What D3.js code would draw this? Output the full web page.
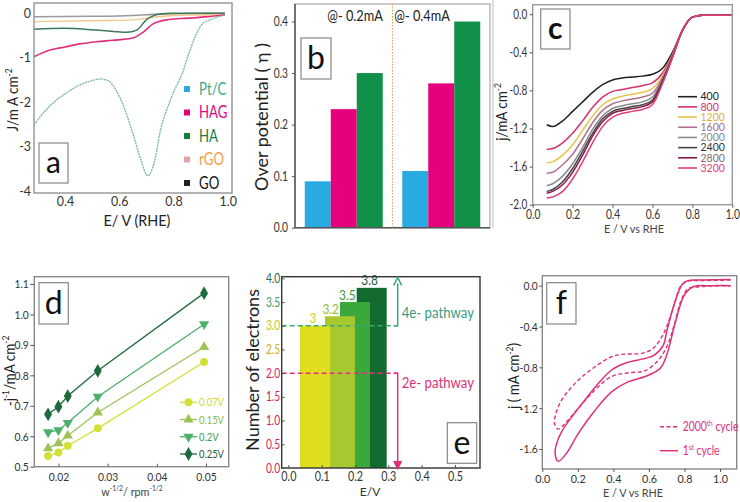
<!DOCTYPE html>
<html><head><meta charset="utf-8">
<script src="https://cdn.jsdelivr.net/npm/d3@7"></script>
<style>body{margin:0;background:#fff}svg{display:block}text{font-family:Lato,"Open Sans",sans-serif}</style>
</head><body><svg id="fig" width="740" height="502"></svg>
<script>
// ---------- DATA ----------
// panel a: LSV curves
const aNames = ["Pt/C","HAG","HA","rGO","GO"];
const aPtC_E = [0.286,0.32,0.36,0.40,0.45,0.50,0.53,0.56,0.59,0.62,0.65,0.68,0.705,0.73,0.75,0.79,0.837,0.86,0.886,0.91,0.935,0.96,0.99];
const aPtC_J = [-2.52,-2.25,-2.0,-1.82,-1.63,-1.52,-1.48,-1.52,-1.75,-2.15,-2.7,-3.3,-3.66,-3.35,-2.7,-1.94,-1.28,-0.85,-0.45,-0.22,-0.15,-0.09,-0.04];
const aHAG_E = [0.286,0.345,0.40,0.455,0.52,0.577,0.65,0.688,0.725,0.775,0.83,0.886,0.94,0.99];
const aHAG_J = [-0.98,-0.83,-0.76,-0.69,-0.64,-0.61,-0.56,-0.43,-0.24,-0.15,-0.12,-0.10,-0.07,-0.04];
const aHA_E = [0.286,0.394,0.517,0.58,0.628,0.665,0.70,0.725,0.75,0.79,0.9,0.99];
const aHA_J = [-0.36,-0.34,-0.38,-0.41,-0.43,-0.38,-0.15,-0.06,-0.02,0,0,0];
const aRGO_E = [0.286,0.5,0.65,0.738,0.8,0.9,0.99];
const aRGO_J = [-0.19,-0.17,-0.15,-0.08,-0.05,-0.04,-0.03];
const aGO_E = [0.286,0.5,0.65,0.75,0.85,0.99];
const aGO_J = [-0.08,-0.07,-0.05,-0.02,-0.01,0];
const aXTicks = [0.4,0.6,0.8,1.0];
const aYTicks = [0,-1,-2,-3,-4];

// panel b: overpotential bars
const bGroups = ["@-0.2mA","@-0.4mA"];
const bSeries = ["Pt/C","HAG","HA"];
const bAt02 = [0.09,0.23,0.30];
const bAt04 = [0.11,0.28,0.40];
const bYTicks = [0,0.1,0.2,0.3,0.4];

// panel c: LSV at rotation rates
const cRpm = ["400","800","1200","1600","2000","2400","2800","3200"];
const cE = [0.07,0.10,0.15,0.20,0.25,0.30,0.35,0.40,0.45,0.50,0.55,0.60,0.65,0.70,0.75,0.80,0.85,0.90,1.0];
const c400  = [-1.16,-1.18,-1.12,-1.02,-0.92,-0.82,-0.74,-0.69,-0.67,-0.66,-0.65,-0.63,-0.57,-0.40,-0.17,-0.03,-0.01,-0.01,-0.01];
const c800  = [-1.42,-1.41,-1.35,-1.25,-1.12,-0.98,-0.87,-0.81,-0.79,-0.77,-0.75,-0.72,-0.62,-0.42,-0.17,-0.03,-0.01,-0.01,-0.01];
const c1200 = [-1.56,-1.55,-1.48,-1.37,-1.22,-1.07,-0.95,-0.89,-0.86,-0.84,-0.82,-0.78,-0.65,-0.43,-0.17,-0.03,-0.01,-0.01,-0.01];
const c1600 = [-1.67,-1.66,-1.58,-1.47,-1.31,-1.14,-1.01,-0.94,-0.91,-0.89,-0.87,-0.83,-0.67,-0.44,-0.17,-0.03,-0.01,-0.01,-0.01];
const c2000 = [-1.80,-1.78,-1.70,-1.57,-1.40,-1.21,-1.07,-0.99,-0.96,-0.94,-0.92,-0.87,-0.69,-0.44,-0.17,-0.03,-0.01,-0.01,-0.01];
const c2400 = [-1.86,-1.84,-1.76,-1.62,-1.44,-1.25,-1.10,-1.02,-0.99,-0.97,-0.95,-0.90,-0.70,-0.45,-0.17,-0.03,-0.01,-0.01,-0.01];
const c2800 = [-1.88,-1.86,-1.79,-1.66,-1.48,-1.28,-1.13,-1.04,-1.01,-0.99,-0.97,-0.92,-0.72,-0.45,-0.17,-0.03,-0.01,-0.01,-0.01];
const c3200 = [-1.93,-1.92,-1.86,-1.73,-1.55,-1.35,-1.18,-1.08,-1.04,-1.02,-1.00,-0.95,-0.73,-0.46,-0.17,-0.03,-0.01,-0.01,-0.01];
const cXTicks = [0,0.2,0.4,0.6,0.8,1.0];
const cYTicks = [0,-0.4,-0.8,-1.2,-1.6,-2.0];

// panel d: Koutecky-Levich
const dNames = ["0.07V","0.15V","0.2V","0.25V"];
const dW = [0.0179,0.0200,0.0219,0.0280,0.0496];
const d007 = [0.535,0.547,0.569,0.626,0.844];
const d015 = [0.560,0.577,0.602,0.678,0.893];
const d020 = [0.613,0.620,0.644,0.730,0.968];
const d025 = [0.672,0.697,0.732,0.815,1.070];
const dXTicks = [0.02,0.03,0.04,0.05];
const dYTicks = [0.5,0.6,0.7,0.8,0.9,1.0,1.1];

// panel e: number of electrons
const eE = [0.08,0.155,0.2,0.25];
const eN = [3.0,3.2,3.5,3.8];
const eLabels = ["3","3.2","3.5","3.8"];
const eXTicks = [0,0.1,0.2,0.3,0.4,0.5];
const eYTicks = [0,0.5,1.0,1.5,2.0,2.5,3.0,3.5,4.0];

// panel f: stability CV
const fNames = ["2000th cycle","1st cycle"];
const f2000_E = [1.06,0.9,0.82,0.78,0.74,0.70,0.673,0.62,0.56,0.447,0.39,0.297,0.203,0.109,0.072,0.07,0.09,0.128,0.203,0.297,0.39,0.485,0.579,0.654,0.70,0.74,0.78,0.82,0.88,1.06];
const f2000_J = [0.055,0.05,0.045,0.0,-0.2,-0.4,-0.5,-0.62,-0.663,-0.673,-0.696,-0.794,-0.925,-1.12,-1.284,-1.36,-1.405,-1.35,-1.2,-1.02,-0.89,-0.853,-0.833,-0.728,-0.6,-0.4,-0.15,-0.03,-0.01,0.0];
const f1_E = [1.06,0.9,0.82,0.79,0.75,0.70,0.682,0.63,0.579,0.466,0.39,0.316,0.24,0.166,0.109,0.081,0.072,0.09,0.137,0.203,0.297,0.39,0.485,0.579,0.663,0.70,0.75,0.80,0.85,0.95,1.06];
const f1_J = [0.06,0.055,0.05,0.02,-0.14,-0.45,-0.58,-0.68,-0.712,-0.76,-0.826,-0.957,-1.12,-1.284,-1.43,-1.545,-1.643,-1.72,-1.64,-1.447,-1.22,-1.04,-0.94,-0.89,-0.81,-0.68,-0.35,-0.09,-0.01,0.0,0.0];
const fXTicks = [0,0.2,0.4,0.6,0.8,1.0];
const fYTicks = [0,-0.4,-0.8,-1.2,-1.6];

// ---------- HELPERS ----------
const svg = d3.select("#fig");
svg.append("rect").attr("width",740).attr("height",502).attr("fill","#fff");

function squeeze(sel,k){
  sel.each(function(){
    const t=d3.select(this); const x=+(t.attr("x")||0);
    t.attr("x",x/k).attr("transform",`scale(${k},1)`);
  });
}
function rich(t, parts, fs){
  let up=false;
  parts.forEach(p=>{
    const sup=Array.isArray(p);
    const s=t.append("tspan").text(sup?p[0]:p);
    if(sup){s.attr("font-size",fs*0.62); if(!up) s.attr("dy",-fs*0.42); up=true;}
    else{s.attr("font-size",fs); if(up){s.attr("dy",fs*0.42); up=false;}}
  });
}
function label(x,y,parts,fs,o={}){
  const k=o.k||1;
  const t=svg.append("text").attr("transform",`translate(${x},${y})${o.rot?" rotate(-90)":""} scale(${k},1)`)
    .attr("text-anchor",o.anchor||"middle").attr("fill",o.fill||"#222").attr("font-size",fs);
  if(o.weight) t.attr("font-weight",o.weight);
  rich(t, typeof parts==="string"?[parts]:parts, fs);
  return t;
}
function frame(x,y,stroke,w){
  const [x0,x1]=x.range(), [y0,y1]=y.range();
  svg.append("rect").attr("x",Math.min(x0,x1)).attr("y",Math.min(y0,y1))
    .attr("width",Math.abs(x1-x0)).attr("height",Math.abs(y1-y0))
    .attr("fill","none").attr("stroke",stroke).attr("stroke-width",w||1.2);
}
function xAxis(x,y,ticks,fmt,size,pad,fs,k){
  const g=svg.append("g").attr("transform",`translate(0,${y.range()[0]})`)
    .call(d3.axisBottom(x).tickValues(ticks).tickFormat(fmt).tickSize(size).tickPadding(pad));
  g.select(".domain").remove();
  g.selectAll("line").attr("stroke","#555");
  g.selectAll("text").attr("font-size",fs).attr("fill","#333").attr("font-family","Lato");
  squeeze(g.selectAll("text"),k||0.86);
  return g;
}
function yAxis(x0,y,ticks,fmt,size,pad,fs,k){
  const g=svg.append("g").attr("transform",`translate(${x0},0)`)
    .call(d3.axisLeft(y).tickValues(ticks).tickFormat(fmt).tickSize(size).tickPadding(pad));
  g.select(".domain").remove();
  g.selectAll("line").attr("stroke","#555");
  g.selectAll("text").attr("font-size",fs).attr("fill","#333").attr("font-family","Lato");
  squeeze(g.selectAll("text"),k||0.86);
  return g;
}
function box(x0,y0,x1,y1,letter,fs,weight){
  svg.append("rect").attr("x",x0).attr("y",y0).attr("width",x1-x0).attr("height",y1-y0)
    .attr("fill","#fff").attr("stroke","#888").attr("stroke-width",1.2);
  svg.append("text").attr("x",(x0+x1)/2).attr("y",(y0+y1)/2).attr("dy","0.33em")
    .attr("text-anchor","middle").attr("font-size",fs).attr("font-weight",weight||"normal")
    .attr("fill","#111").text(letter);
}
const minusFmt = f => v => d3.format(f)(v).replace("−","-");
function legendText(x,y,txt,fs,fill,k){
  const t=svg.append("text").attr("x",x).attr("y",y).attr("dy","0.36em").attr("font-size",fs).attr("fill",fill).text(txt);
  squeeze(t,k);
  return t;
}

// ---------- PANEL A ----------
{
  const x=d3.scaleLinear().domain([0.286,1.016]).range([34,232]);
  const y=d3.scaleLinear().domain([-4.05,0.23]).range([193,3]);
  const line=d3.line().x(d=>x(d[0])).y(d=>y(d[1])).curve(d3.curveMonotoneX);
  const series=[
    {E:aGO_E,J:aGO_J,c:"#9a9a9a",w:1.6},
    {E:aRGO_E,J:aRGO_J,c:"#f2c88a",w:1.4},
    {E:aHA_E,J:aHA_J,c:"#3f7a58",w:1.5},
    {E:aHAG_E,J:aHAG_J,c:"#e0307a",w:1.6},
    {E:aPtC_E,J:aPtC_J,c:"#78b49c",w:1.3,dash:"2,0.8"}
  ];
  series.forEach(s=>svg.append("path").attr("d",line(d3.zip(s.E,s.J))).attr("fill","none")
    .attr("stroke",s.c).attr("stroke-width",s.w).attr("stroke-dasharray",s.dash||null));
  frame(x,y,"#9a9a9a",1.5);
  xAxis(x,y,aXTicks,d3.format(".1f"),0,3.5,13.5,0.92);
  yAxis(34,y,aYTicks,minusFmt("d"),0,3,13.5,0.92);
  label(18,100,["J/m A cm",["-2"]],15,{rot:true,k:0.9});
  label(137,226,"E/ V (RHE)",16,{k:0.9});
  const sq=["#29abe2","#e6007e","#1a7a40","#e8a0a8","#222"];
  const tc=["#3aaa8a","#e6007e","#1a7a40","#f0a040","#111"];
  const ly=d3.scalePoint().domain(aNames).range([89,183]);
  aNames.forEach((n,i)=>{
    svg.append("rect").attr("x",184).attr("y",ly(n)-3).attr("width",6).attr("height",6).attr("fill",sq[i]);
    legendText(199,ly(n),n,16.5,tc[i],0.8);
  });
  box(39,143,68,183,"a",30);
}

// ---------- PANEL B ----------
{
  const x0=d3.scaleBand().domain(bGroups).range([295,490]).paddingInner(0.2).paddingOuter(0.1);
  const x1=d3.scaleBand().domain(bSeries).range([0,x0.bandwidth()]);
  const y=d3.scaleLinear().domain([0,0.434]).range([227.7,4]);
  const col=d3.scaleOrdinal().domain(bSeries).range(["#29abe2","#e6007e","#109048"]);
  const vals={"@-0.2mA":bAt02,"@-0.4mA":bAt04};
  bGroups.forEach(gk=>{
    bSeries.forEach((s,i)=>{
      svg.append("rect").attr("x",x0(gk)+x1(s)).attr("width",x1.bandwidth())
        .attr("y",y(vals[gk][i])).attr("height",y(0)-y(vals[gk][i])).attr("fill",col(s));
    });
  });
  svg.append("rect").attr("x",295).attr("y",4).attr("width",195).attr("height",223.7)
    .attr("fill","none").attr("stroke","#aaa").attr("stroke-width",1.2);
  svg.append("line").attr("x1",295).attr("x2",295).attr("y1",4).attr("y2",227.7).attr("stroke","#555").attr("stroke-width",1.5);
  svg.append("line").attr("x1",295).attr("x2",490).attr("y1",227.7).attr("y2",227.7).attr("stroke","#555").attr("stroke-width",1.5);
  const xd=(x0("@-0.2mA")+x0.bandwidth()+x0("@-0.4mA"))/2;
  svg.append("line").attr("x1",xd).attr("x2",xd).attr("y1",4).attr("y2",227.7)
    .attr("stroke","#e0a060").attr("stroke-width",1).attr("stroke-dasharray","1.5,1.5");
  yAxis(295,y,bYTicks,d3.format(".1f"),3,4,12.5,0.82);
  label(355,21,"@- 0.2mA",15,{k:0.85});
  label(422,21,"@- 0.4mA",15,{k:0.85});
  label(268,117,"Over potential ( η )",18,{rot:true});
  box(301,38,331,79,"b",32);
}

// ---------- PANEL C ----------
{
  svg.append("line").attr("x1",493).attr("x2",493).attr("y1",0).attr("y2",228).attr("stroke","#bbb").attr("stroke-width",1);
  const x=d3.scaleLinear().domain([0,1]).range([532.7,732.3]);
  const y=d3.scaleLinear().domain([-2.0,0.1]).range([204.7,4.7]);
  const line=d3.line().x(d=>x(d[0])).y(d=>y(d[1])).curve(d3.curveMonotoneX);
  const data=[c400,c800,c1200,c1600,c2000,c2400,c2800,c3200];
  const lc=["#222","#d6336c","#e8c24a","#b07090","#8a8a8a","#444","#8b1a4a","#e0407a"];
  const tc=["#222","#d6336c","#e0b030","#a86a88","#888","#333","#8a6a6a","#e0407a"];
  data.forEach((s,i)=>svg.append("path").attr("d",line(d3.zip(cE,s))).attr("fill","none")
    .attr("stroke",lc[i]).attr("stroke-width",1.5));
  frame(x,y,"#999",1.4);
  xAxis(x,y,cXTicks,d3.format(".1f"),3,2,12.5,0.82);
  yAxis(532.7,y,cYTicks,minusFmt(".1f"),3,2.5,12.5,0.8);
  label(507,112,["j/mA cm",["-2"]],15,{rot:true,k:0.9});
  label(634,233,"E / V vs RHE",12,{fill:"#444",k:0.9});
  const ly=d3.scalePoint().domain(cRpm).range([96.7,168]);
  cRpm.forEach((r,i)=>{
    svg.append("line").attr("x1",678).attr("x2",697).attr("y1",ly(r)).attr("y2",ly(r)).attr("stroke",lc[i]).attr("stroke-width",1.6);
    legendText(700.5,ly(r),r,10.5,tc[i],1);
  });
  box(540.7,9,570,49,"c",30,"bold");
}

// ---------- PANEL D ----------
{
  const x=d3.scaleLinear().domain([0.0151,0.0546]).range([34.3,228.7]);
  const y=d3.scaleLinear().domain([0.5,1.124]).range([466.7,276.7]);
  const line=d3.line().x(d=>x(d[0])).y(d=>y(d[1]));
  const data=[d007,d015,d020,d025];
  const lc=["#d4e03a","#9cc454","#4caf6a","#1d6b3c"];
  const tc=["#c8d830","#8ab84a","#3a9a5a","#1d5b3c"];
  const sym=[d3.symbolCircle,d3.symbolTriangle,d3.symbolTriangle,d3.symbolDiamond];
  const rot=[0,0,180,0];
  const sz=[50,45,45,55];
  const mark=(cx,cy,i)=>svg.append("path").attr("d",d3.symbol().type(sym[i]).size(sz[i])())
      .attr("transform",`translate(${cx},${cy}) rotate(${rot[i]})`).attr("fill",lc[i]);
  data.forEach((s,i)=>{
    svg.append("path").attr("d",line(d3.zip(dW,s))).attr("fill","none").attr("stroke",lc[i]).attr("stroke-width",1.3);
    s.forEach((v,j)=>mark(x(dW[j]),y(v),i));
  });
  frame(x,y,"#888",1.4);
  xAxis(x,y,dXTicks,d3.format(".2f"),-3,5.5,12,0.86);
  yAxis(34.3,y,dYTicks,d3.format(".1f"),4,1.5,12,0.86);
  label(15,371,["-j",["-1"],"/mA cm",["-2"]],15,{rot:true,k:0.9});
  label(132,496,["w",["-1/2"],"/ rpm",["-1/2"]],12,{fill:"#444",k:0.9});
  const ly=d3.scalePoint().domain(dNames).range([402.3,454]);
  dNames.forEach((n,i)=>{
    svg.append("line").attr("x1",180).attr("x2",197).attr("y1",ly(n)).attr("y2",ly(n)).attr("stroke",lc[i]).attr("stroke-width",1.3);
    mark(188.5,ly(n),i);
    legendText(199,ly(n),n,11.5,tc[i],0.82);
  });
  box(39,282.7,68.3,324,"d",32);
}

// ---------- PANEL E ----------
{
  const x=d3.scaleLinear().domain([-0.02,0.575]).range([281.7,480]);
  const y=d3.scaleLinear().domain([0,4.035]).range([468,276.7]);
  const bw=0.09;
  const bc=["#dede1e","#a8c830","#3aa83a","#146b30"];
  const lc=["#d8d020","#9ab828","#3a9a3a","#1a5a35"];
  for(let i=eE.length-1;i>=0;i--){
    svg.append("rect").attr("x",x(eE[i]-bw/2)).attr("width",x(eE[i]+bw/2)-x(eE[i]-bw/2))
      .attr("y",y(eN[i])).attr("height",y(0)-y(eN[i])).attr("fill",bc[i]);
  }
  const kL=0.85;
  eE.forEach((e,i)=>{
    const t=svg.append("text").attr("y",y(eN[i])-2.5)
      .attr("text-anchor","middle").attr("font-size",14).attr("fill",lc[i]).text(eLabels[i]);
    const w=t.node().getComputedTextLength()*kL;
    let cx=x(e)-2;
    if(i<eE.length-1) cx=Math.min(cx, x(eE[i+1]-bw/2)-w/2-1);
    t.attr("x",cx);
    squeeze(t,kL);
  });
  frame(x,y,"#333",1.4);
  const xa=0.328;
  svg.append("line").attr("x1",x.range()[0]).attr("x2",x(xa)).attr("y1",y(3)).attr("y2",y(3))
    .attr("stroke","#3aaa70").attr("stroke-width",1.5).attr("stroke-dasharray","5,3");
  svg.append("line").attr("x1",x.range()[0]).attr("x2",x(xa)).attr("y1",y(2)).attr("y2",y(2))
    .attr("stroke","#e0307a").attr("stroke-width",1.5).attr("stroke-dasharray","5,3");
  const ax=x(xa);
  svg.append("path").attr("d",`M${ax-4},${y(3)}H${ax}V${y(4.0)+5}`).attr("fill","none").attr("stroke","#3aaa70").attr("stroke-width",1.5);
  svg.append("path").attr("d",`M${ax-4},${y(4.0)+7}L${ax},${y(4.0)-1}L${ax+4},${y(4.0)+7}`).attr("fill","none").attr("stroke","#3aaa70").attr("stroke-width",1.5);
  svg.append("path").attr("d",`M${ax-4},${y(2)}H${ax}V${y(0)-5}`).attr("fill","none").attr("stroke","#e0307a").attr("stroke-width",1.5);
  svg.append("path").attr("d",`M${ax-4},${y(0)-7}L${ax},${y(0)+1}L${ax+4},${y(0)-7}`).attr("fill","#e0307a").attr("stroke","#e0307a").attr("stroke-width",1.2);
  label(ax+4,y(3.0)-8,"4e- pathway",15,{anchor:"start",fill:"#3a9a80",k:0.88});
  label(ax+4,y(2.0)+15,"2e- pathway",15,{anchor:"start",fill:"#e0307a",k:0.88});
  xAxis(x,y,eXTicks,d3.format(".1f"),-3,4.5,12.5,0.86);
  const ycol=v=>v>=4?"#2a6a5a":v>=3.5?"#3a9a6a":v>=3?"#c8c020":v>=2.5?"#c8b030":"#d81b60";
  const ga=yAxis(281.7,y,eYTicks,d3.format(".1f"),-3,1.5,12.5,0.82);
  ga.selectAll("text").attr("fill",d=>ycol(d));
  label(259,370,"Number of electrons",18,{rot:true});
  label(370,496,"E/V",12,{fill:"#333"});
  box(447.3,422.7,476.7,463.3,"e",32);
}

// ---------- PANEL F ----------
{
  const x=d3.scaleLinear().domain([0,1.094]).range([542.3,736.7]);
  const y=d3.scaleLinear().domain([-1.796,0.098]).range([469,275.7]);
  const line=d3.line().x(d=>x(d[0])).y(d=>y(d[1])).curve(d3.curveCatmullRom.alpha(0.5));
  const col="#e0307a";
  svg.append("path").attr("d",line(d3.zip(f2000_E,f2000_J))).attr("fill","none").attr("stroke",col)
    .attr("stroke-width",1.4).attr("stroke-dasharray","4,2.5");
  svg.append("path").attr("d",line(d3.zip(f1_E,f1_J))).attr("fill","none").attr("stroke",col).attr("stroke-width",1.5);
  frame(x,y,"#888",1.4);
  xAxis(x,y,fXTicks,d3.format(".1f"),3,2,12,0.9);
  yAxis(542.3,y,fYTicks,minusFmt(".1f"),3,1.5,12,0.86);
  label(519,376,["j ( mA cm",["-2"],")"],15,{rot:true,k:0.9});
  label(633,497,"E / V vs RHE",12,{fill:"#444",k:0.9});
  const ly=d3.scalePoint().domain(fNames).range([426.7,450.7]);
  svg.append("line").attr("x1",660).attr("x2",678).attr("y1",ly(fNames[0])).attr("y2",ly(fNames[0])).attr("stroke",col).attr("stroke-width",1.4).attr("stroke-dasharray","4,2.5");
  svg.append("line").attr("x1",660).attr("x2",678).attr("y1",ly(fNames[1])).attr("y2",ly(fNames[1])).attr("stroke",col).attr("stroke-width",1.5);
  label(682.7,ly(fNames[0])+4.5,["2000",["th"]," cycle"],13,{anchor:"start",fill:col,k:0.8});
  label(682.7,ly(fNames[1])+4.5,["1",["st"]," cycle"],13,{anchor:"start",fill:col,k:0.8});
  box(546.7,282.7,576,324,"f",32);
}
</script></body></html>
